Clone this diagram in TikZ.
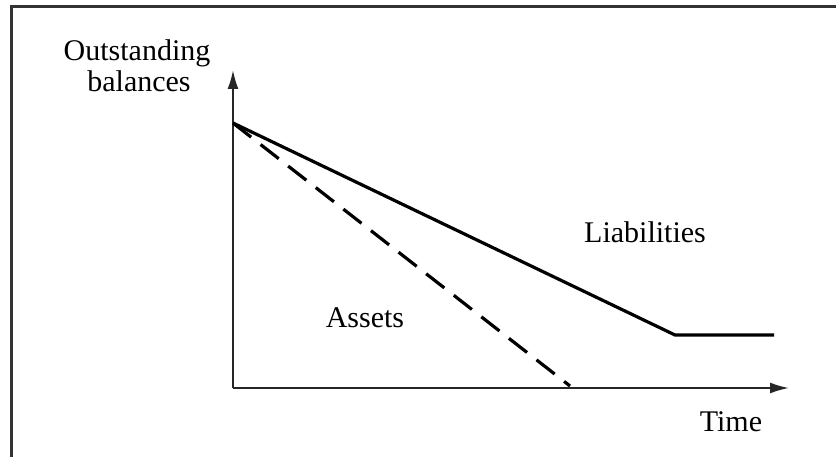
\documentclass[tikz,border=0pt]{standalone}
\usepackage{fontspec}
\setmainfont{Liberation Serif}
\usetikzlibrary{arrows.meta}
\begin{document}
\begin{tikzpicture}[x=1pt,y=-1pt,
  lbl/.style={anchor=base,inner sep=0pt,font=\fontsize{30}{31}\selectfont},
  axis/.style={line width=2pt,color=black!85,-{Latex[length=19pt,width=11pt]}},
  curve/.style={line width=3.2pt,line cap=butt,line join=miter},
  dashcurve/.style={curve,dash pattern=on 23pt off 12pt}]
\useasboundingbox (0,0) rectangle (836,457);
\fill[white] (0,0) rectangle (836,457);
% frame (left and top only)
\draw[line width=3pt,color=black!80] (11,457) -- (11,7) -- (836,7);
% coordinates
\coordinate (O) at (233,388);
\coordinate (ytip) at (233,70);
\coordinate (xtip) at (789,388);
\coordinate (S) at (233,123);
\coordinate (knee) at (675,335);
\coordinate (lend) at (774,335);
\coordinate (aend) at (570,386);
% axes
\draw[axis] (O) -- (ytip);
\draw[axis] (O) -- (xtip);
% curves
\draw[curve] (S) -- (knee) -- (lend);
\draw[dashcurve] (S) -- (aend);
% labels
\node[lbl] (t1) at (137,61) {Outstanding};
\node[lbl] (t2) at (139,92) {balances};
\node[lbl] (liab) at (645,243) {Liabilities};
\node[lbl] (assets) at (365,327) {Assets};
\node[lbl] (time) at (731,431) {Time};
\end{tikzpicture}
\end{document}
